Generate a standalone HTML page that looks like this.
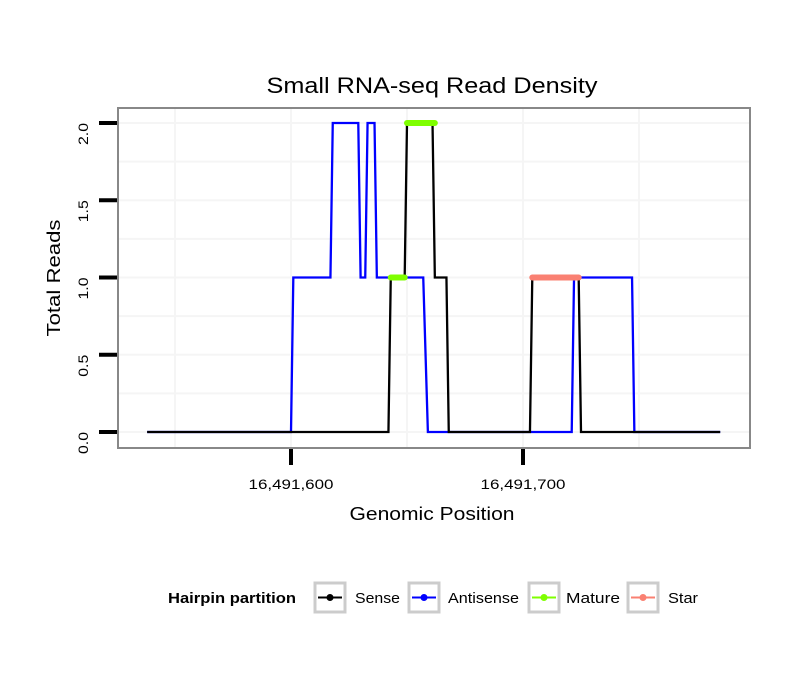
<!DOCTYPE html>
<html><head><meta charset="utf-8"><style>
body{margin:0;background:#fff;}
svg{display:block;font-family:"Liberation Sans",sans-serif;}
</style></head><body>
<svg id="chart" width="810" height="690">
<rect width="810" height="690" fill="#fff"/>
<text x="432" y="93" font-size="22" text-anchor="middle" textLength="331" lengthAdjust="spacingAndGlyphs">Small RNA-seq Read Density</text>
<g id="grid"></g>
<g id="series"></g>
<rect x="118" y="108" width="632" height="340" fill="none" stroke="#888" stroke-width="2"/>
<g id="axes"></g>
<text x="432" y="520" font-size="18" text-anchor="middle" textLength="165" lengthAdjust="spacingAndGlyphs">Genomic Position</text>
<text transform="translate(60,278) rotate(-90)" font-size="18" text-anchor="middle" textLength="117" lengthAdjust="spacingAndGlyphs">Total Reads</text>
<g>
<text x="168" y="603" font-size="15" font-weight="bold" textLength="128" lengthAdjust="spacingAndGlyphs">Hairpin partition</text>
<g id="legend"></g>
</g>
</svg>
<script>
const base = 16491500;
const xTicks = [16491600, 16491700];
const xTickLabels = ["16,491,600", "16,491,700"];
const yTicks = [0, 0.5, 1, 1.5, 2];
const yTickLabels = ["0.0", "0.5", "1.0", "1.5", "2.0"];
const senseX = [16491538,16491642,16491643,16491649,16491650,16491661,16491662,16491667,16491668,16491703,16491704,16491724,16491725,16491785];
const senseY = [0,0,1,1,2,2,1,1,0,0,1,1,0,0];
const antiX = [16491538,16491600,16491601,16491617,16491618,16491629,16491630,16491632,16491633,16491636,16491637,16491657,16491659,16491721,16491722,16491747,16491748,16491785];
const antiY = [0,0,1,1,2,2,1,1,2,2,1,1,0,0,1,1,0,0];
const matureStart = [16491643, 16491650];
const matureEnd = [16491649, 16491662];
const matureY = [1, 2];
const starStart = [16491704];
const starEnd = [16491724];
const starY = [1];
const legendNames = ["Sense","Antisense","Mature","Star"];
const legendColors = ["#000000","#0000ff","#7fff00","#fa8072"];
const legendTextW = [45,71,54,30];

const NS = "http://www.w3.org/2000/svg";
const xs = v => 291 + (v - 16491600) * 2.32;
const ys = v => 432 - v * 154.5;
function mk(tag, attrs, parent){const e=document.createElementNS(NS,tag);for(const k in attrs)e.setAttribute(k,attrs[k]);parent.appendChild(e);return e;}
const grid=document.getElementById('grid'), ser=document.getElementById('series'), axes=document.getElementById('axes'), leg=document.getElementById('legend');

for(let v=0; v<=2.0001; v+=0.25){
  const l=mk('line',{x1:118,x2:750,y1:ys(v),y2:ys(v),stroke:'#f5f5f5','stroke-width':2},grid);
  
  
}
for(let v=16491550; v<=16491750; v+=50){
  const l=mk('line',{x1:xs(v),x2:xs(v),y1:108,y2:448,stroke:'#f5f5f5','stroke-width':2},grid);
  
  
}
function poly(X,Y,color,name){
  const p=mk('polyline',{points:X.map((x,i)=>xs(x)+','+ys(Y[i])).join(' '),fill:'none',stroke:color,'stroke-width':2.3},ser);
  
  
}
poly(antiX,antiY,'#0000ff','antisense-line');
poly(senseX,senseY,'#000000','sense-line');
function segs(S,E,Y,color,name){
  S.forEach((s,i)=>{
    const l=mk('line',{x1:xs(s),x2:xs(E[i]),y1:ys(Y[i]),y2:ys(Y[i]),stroke:color,'stroke-width':6,'stroke-linecap':'round'},ser);
    
    
  });
}
segs(matureStart,matureEnd,matureY,'#7fff00','mature-segment');
segs(starStart,starEnd,starY,'#fa8072','star-segment');
yTicks.forEach((v,i)=>{
  const t=mk('line',{x1:99,x2:117,y1:ys(v),y2:ys(v),stroke:'#000','stroke-width':4},axes);
  
  
  const tx=mk('text',{transform:`translate(88,${ys(v)}) rotate(-90)`,'font-size':14,'text-anchor':'end',textLength:22,lengthAdjust:'spacingAndGlyphs'},axes);
  tx.textContent=yTickLabels[i];
  
  
});
xTicks.forEach((v,i)=>{
  const t=mk('line',{x1:xs(v),x2:xs(v),y1:449,y2:465,stroke:'#000','stroke-width':4},axes);
  
  
  const tx=mk('text',{x:xs(v),y:489,'font-size':14,'text-anchor':'middle',textLength:85,lengthAdjust:'spacingAndGlyphs'},axes);
  tx.textContent=xTickLabels[i];
  
  
});
const lx=[315,409,529,628];
const tx=[355,448,566,668];
legendNames.forEach((n,i)=>{
  const g=mk('g',{},leg);
  
  
  mk('rect',{x:lx[i],y:583,width:30,height:29,fill:'#fff',stroke:'#ccc','stroke-width':3},g);
  mk('line',{x1:lx[i]+3,x2:lx[i]+27,y1:597.5,y2:597.5,stroke:legendColors[i],'stroke-width':2},g);
  mk('circle',{cx:lx[i]+15,cy:597.5,r:3.5,fill:legendColors[i]},g);
  const t=mk('text',{x:tx[i],y:603,'font-size':15,textLength:legendTextW[i],lengthAdjust:'spacingAndGlyphs'},g);
  t.textContent=n;
});
</script>
</body></html>
